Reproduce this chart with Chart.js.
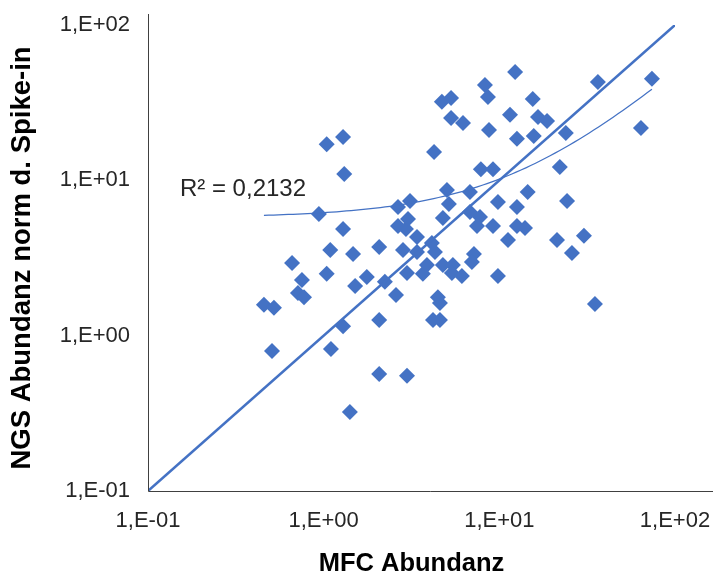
<!DOCTYPE html>
<html>
<head>
<meta charset="utf-8">
<script src="https://cdn.jsdelivr.net/npm/chart.js@4/dist/chart.umd.min.js"></script>
<style>
  html, body { margin: 0; padding: 0; background: #fff; }
  #wrap { width: 713px; height: 576px; }
</style>
</head>
<body>
<div id="wrap"><canvas id="mfcChart"></canvas></div>
<script>
// ====== DATA ======
const mfcAbundanz = [
  0.457, 0.521, 0.661, 0.752, 0.714, 0.773, 0.508, 1.10, 1.04, 1.09,
  1.47, 1.51, 1.76, 2.07, 2.23, 1.29, 2.07, 2.07, 2.98, 1.41,
  0.939, 1.04, 1.29, 1.31, 1.29, 2.58, 2.83, 2.98, 2.65, 3.10,
  2.65, 3.02, 2.94, 3.40, 3.40, 4.13, 4.30, 3.67, 3.87, 4.47,
  4.59, 4.19, 4.59, 4.77, 4.25, 4.71, 5.31, 5.31, 6.21, 8.28,
  8.61, 12.3, 15.5, 11.5, 16.6, 18.7, 8.73, 12.6, 15.7, 23.9,
  36.4, 73.9, 64.0, 22.1, 7.85, 9.20, 5.03, 5.16, 6.80, 14.5,
  9.82, 12.6, 24.3, 6.80, 7.76, 7.46, 9.20, 12.6, 14.0, 11.2,
  21.3, 30.3, 25.9, 35.0, 7.17, 6.98, 4.77, 5.44, 5.37, 6.12, 9.82
];
const ngsAbundanz = [
  1.58, 1.51, 2.94, 2.28, 1.88, 1.77, 0.796, 0.820, 2.50, 3.56,
  3.36, 2.09, 2.39, 3.72, 2.22, 1.15, 1.26, 0.566, 0.551, 0.323,
  6.08, 17.1, 19.0, 11.0, 4.86, 1.83, 3.56, 2.53, 6.74, 7.37,
  5.09, 5.64, 4.86, 4.32, 3.46, 3.95, 3.46, 2.50, 2.85, 1.77,
  1.62, 1.26, 1.26, 5.73, 15.2, 32.0, 33.9, 25.2, 23.4, 41.1,
  34.4, 49.9, 33.4, 26.4, 25.6, 24.1, 21.1, 18.5, 19.3, 20.2,
  43.0, 45.0, 21.7, 12.2, 11.8, 11.8, 8.67, 7.05, 8.42, 8.42,
  7.26, 6.74, 7.37, 6.26, 5.81, 5.09, 5.09, 5.09, 4.94, 4.13,
  4.13, 4.39, 3.41, 1.60, 3.36, 2.98, 2.85, 2.85, 2.53, 2.42, 2.42
];
const diagonalX = [0.1, 100];
const diagonalY = [0.1, 100];
const tickValues = [0.1, 1, 10, 100];
const tickLabels = ['1,E-01', '1,E+00', '1,E+01', '1,E+02'];
const r2Text = 'R² = 0,2132';
const r2Pos = { x: 0.152, y: 8.8 };
// ==============================================

const blue = '#4472C4';
const fontName = "'Liberation Sans', Arial, sans-serif";

// Punkte fuer die Streuung
const scatterPoints = mfcAbundanz.map((x, i) => ({ x: x, y: ngsAbundanz[i] }));
const diagonalPoints = diagonalX.map((x, i) => ({ x: x, y: diagonalY[i] }));

// Lineare Trendlinie (wie Excel: y = a + b*x, auf log-Achsen gekruemmt)
const n = mfcAbundanz.length;
const meanX = mfcAbundanz.reduce((s, v) => s + v, 0) / n;
const meanY = ngsAbundanz.reduce((s, v) => s + v, 0) / n;
let sxy = 0, sxx = 0;
for (let i = 0; i < n; i++) {
  sxy += (mfcAbundanz[i] - meanX) * (ngsAbundanz[i] - meanY);
  sxx += (mfcAbundanz[i] - meanX) ** 2;
}
const slope = sxy / sxx;
const intercept = meanY - slope * meanX;
const minX = Math.min(...mfcAbundanz);
const maxX = Math.max(...mfcAbundanz);
const trendPoints = [];
for (let k = 0; k <= 80; k++) {
  const lx = Math.log10(minX) + (Math.log10(maxX) - Math.log10(minX)) * k / 80;
  const x = Math.pow(10, lx);
  trendPoints.push({ x: x, y: intercept + slope * x });
}

// Label-Ueberhang nicht in die Plotflaeche einrechnen
const noLabelPadding = (scale) => {
  scale.paddingLeft = 0;
  scale.paddingRight = 0;
  scale.paddingTop = 0;
  scale.paddingBottom = 0;
};

// Achsenlinien + R²-Beschriftung
const decorPlugin = {
  id: 'decor',
  afterDatasetsDraw(chart) {
    const { ctx, chartArea, scales } = chart;
    ctx.save();
    ctx.strokeStyle = '#404040';
    ctx.lineWidth = 1;
    ctx.beginPath();
    ctx.moveTo(chartArea.left + 0.5, chartArea.top - 11);
    ctx.lineTo(chartArea.left + 0.5, chartArea.bottom + 0.5);
    ctx.lineTo(chart.width, chartArea.bottom + 0.5);
    ctx.stroke();

    ctx.fillStyle = '#262626';
    ctx.font = '24px ' + fontName;
    ctx.textAlign = 'left';
    ctx.textBaseline = 'middle';
    ctx.fillText(r2Text, scales.x.getPixelForValue(r2Pos.x), scales.y.getPixelForValue(r2Pos.y));
    ctx.restore();
  }
};

const ctx = document.getElementById('mfcChart').getContext('2d');
const mfcChart = new Chart(ctx, {
  type: 'scatter',
  data: {
    datasets: [
      {
        label: 'Diagonale',
        data: diagonalPoints,
        showLine: true,
        borderColor: blue,
        borderWidth: 2.5,
        pointRadius: 0,
        order: 1
      },
      {
        label: 'Trend',
        data: trendPoints,
        showLine: true,
        borderColor: blue,
        borderWidth: 1.25,
        pointRadius: 0,
        order: 0
      },
      {
        label: 'Proben',
        data: scatterPoints,
        pointStyle: 'rectRot',
        pointRadius: 8,
        pointBackgroundColor: blue,
        pointBorderWidth: 0,
        order: 2
      }
    ]
  },
  options: {
    responsive: true,
    maintainAspectRatio: false,
    animation: false,
    layout: { padding: { top: 25, right: 38, left: 0, bottom: 0 } },
    plugins: {
      legend: { display: false },
      tooltip: { enabled: false }
    },
    scales: {
      x: {
        type: 'logarithmic',
        min: 0.1,
        max: 100,
        grid: { display: false, drawTicks: false },
        border: { display: false },
        afterBuildTicks: (scale) => { scale.ticks = tickValues.map(v => ({ value: v })); },
        afterFit: (scale) => { scale.height = 85; noLabelPadding(scale); },
        ticks: {
          color: '#262626',
          font: { family: fontName, size: 22 },
          padding: 17,
          maxRotation: 0,
          callback: (value) => tickLabels[tickValues.indexOf(value)]
        },
        title: {
          display: true,
          text: 'MFC Abundanz',
          color: '#000',
          font: { family: fontName, size: 25.5, weight: 'bold' },
          padding: { top: 0, bottom: -3 }
        }
      },
      y: {
        type: 'logarithmic',
        min: 0.1,
        max: 100,
        grid: { display: false, drawTicks: false },
        border: { display: false },
        afterBuildTicks: (scale) => { scale.ticks = tickValues.map(v => ({ value: v })); },
        afterFit: (scale) => { scale.width = 148; noLabelPadding(scale); },
        ticks: {
          color: '#262626',
          font: { family: fontName, size: 22 },
          padding: 18,
          callback: (value) => tickLabels[tickValues.indexOf(value)]
        },
        title: {
          display: true,
          text: 'NGS Abundanz norm d. Spike-in',
          color: '#000',
          font: { family: fontName, size: 27.5, weight: 'bold' },
          padding: { top: 6, bottom: 0 }
        }
      }
    }
  },
  plugins: [decorPlugin]
});
</script>
</body>
</html>
